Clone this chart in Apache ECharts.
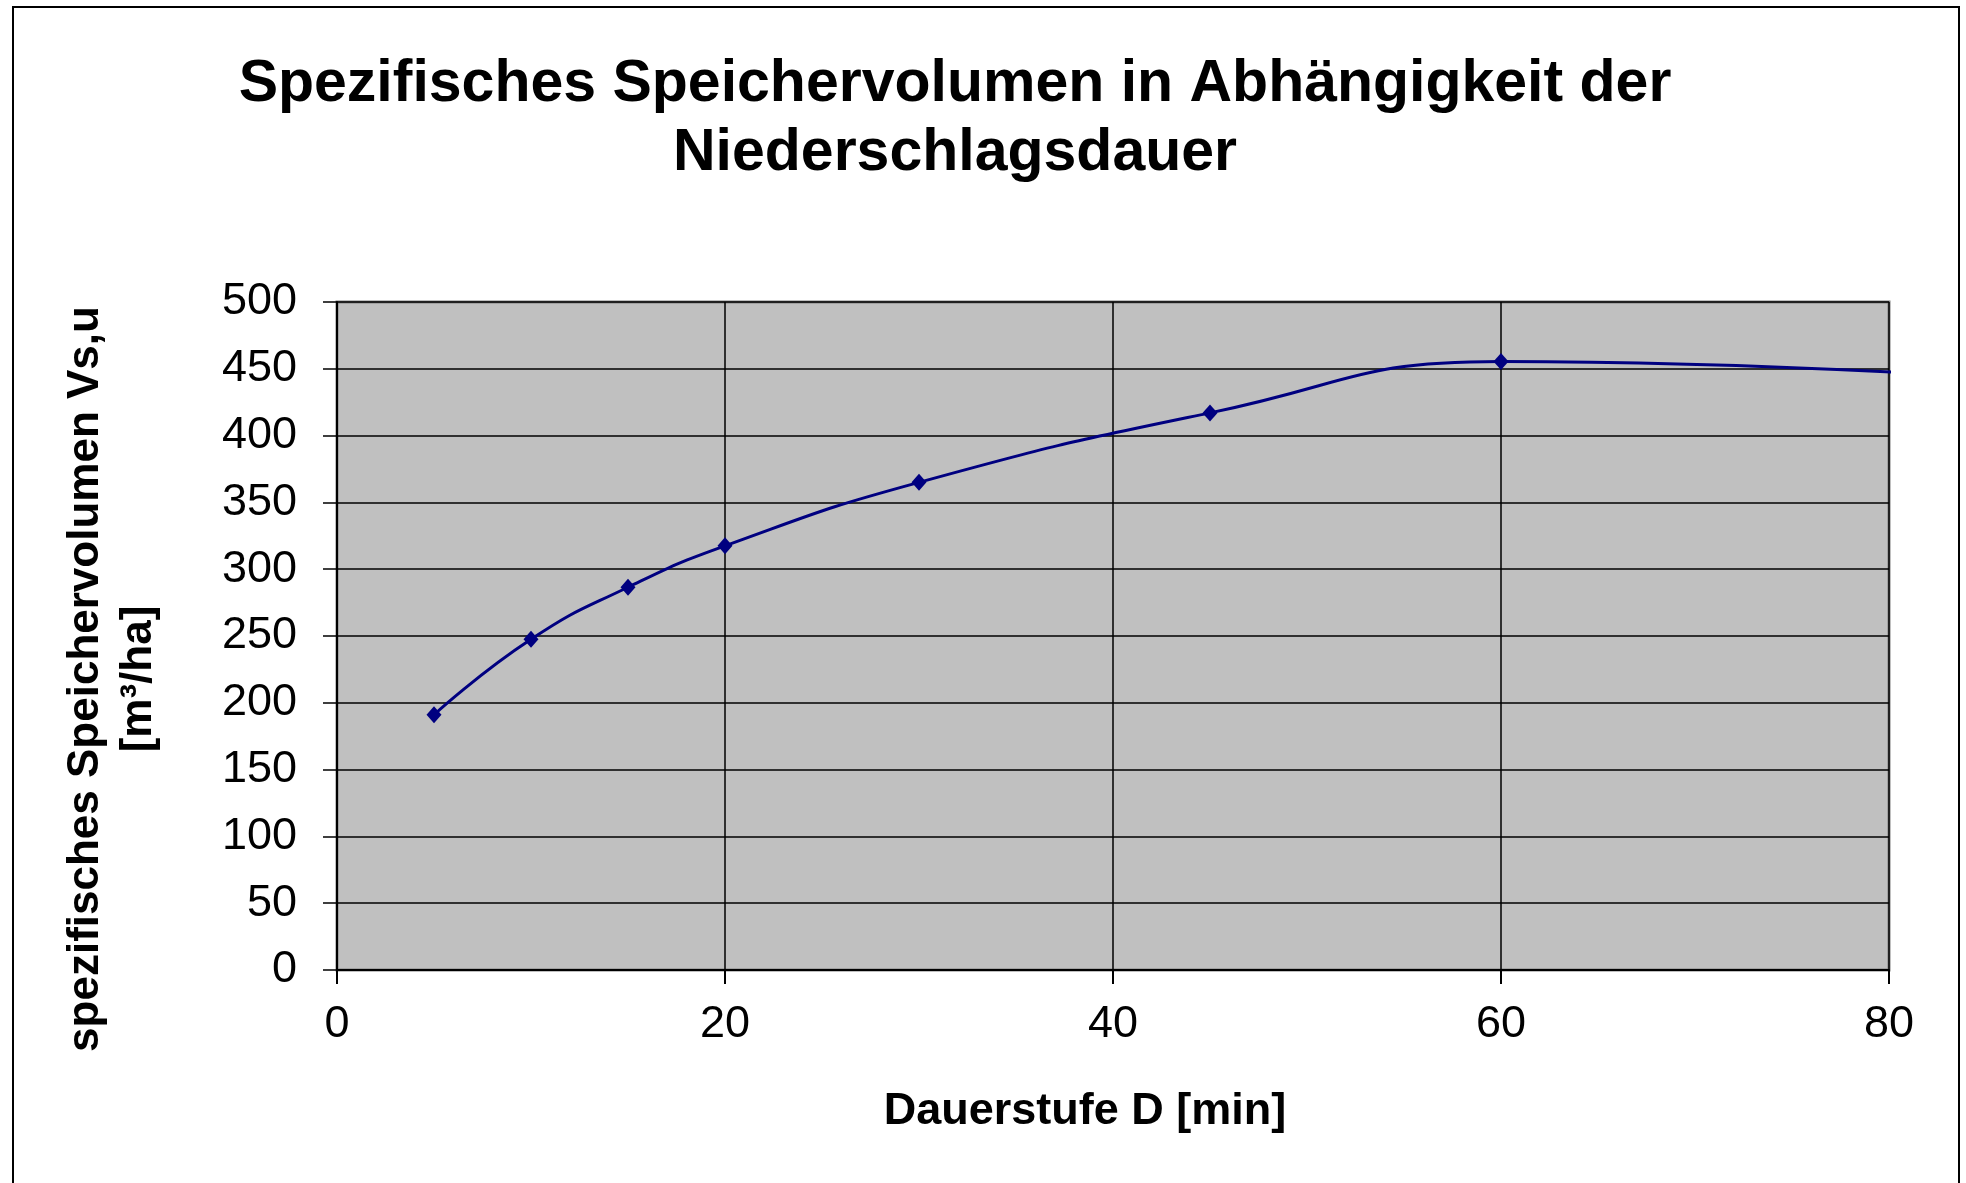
<!DOCTYPE html>
<html>
<head>
<meta charset="utf-8">
<script src="https://cdn.jsdelivr.net/npm/echarts@6/dist/echarts.min.js"></script>
<style>
html,body{margin:0;padding:0;background:#fff;}
#chart{width:1966px;height:1183px;}
</style>
</head>
<body>
<div id="chart"></div>
<script>
// Data
const titleText = 'Spezifisches Speichervolumen in Abhängigkeit der\nNiederschlagsdauer';
const xAxisTitle = 'Dauerstufe D [min]';
const yAxisTitle = 'spezifisches Speichervolumen Vs,u\n[m³/ha]';
const dauer = [5, 10, 15, 20, 30, 45, 60, 90];           // minutes
const volumen = [191, 247.5, 286.5, 317.5, 365, 417, 455.5, 439]; // m³/ha (last point lies beyond the visible x range)

const FONT = '"Liberation Sans", Arial, sans-serif';
const chart = echarts.init(document.getElementById('chart'));
chart.setOption({
  animation: false,
  backgroundColor: '#ffffff',
  graphic: [{
    type: 'rect',
    silent: true,
    shape: { x: 13, y: 7, width: 1946, height: 1190 },
    style: { fill: 'none', stroke: '#000', lineWidth: 2 },
    z: 100
  }],
  title: {
    text: titleText,
    left: 955,
    top: 50,
    textAlign: 'center',
    padding: 0,
    textStyle: {
      fontFamily: FONT, fontWeight: 'bold', fontSize: 59, lineHeight: 69, color: '#000'
    }
  },
  grid: {
    left: 337, top: 302, right: 77, bottom: 213,
    show: true, backgroundColor: '#c0c0c0', borderColor: '#808080', borderWidth: 3
  },
  xAxis: {
    type: 'value', min: 0, max: 80, interval: 20,
    name: xAxisTitle, nameLocation: 'middle', nameGap: 119,
    nameTextStyle: { fontFamily: FONT, fontWeight: 'bold', fontSize: 45, color: '#000', padding: [0, 56, 0, 0] },
    axisLine: { show: true, onZero: false, lineStyle: { color: '#000', width: 2 } },
    axisTick: { show: true, inside: false, length: 14, lineStyle: { color: '#000', width: 2 } },
    axisLabel: { fontFamily: FONT, fontSize: 45, color: '#000', margin: 32 },
    splitLine: { show: true, lineStyle: { color: '#000', width: 1.5 } }
  },
  yAxis: {
    type: 'value', min: 0, max: 500, interval: 50,
    name: yAxisTitle, nameLocation: 'middle', nameGap: 172,
    nameTextStyle: { fontFamily: FONT, fontWeight: 'bold', fontSize: 44, lineHeight: 53, color: '#000', align: 'center', padding: [0, 86, 0, 0] },
    axisLine: { show: true, lineStyle: { color: '#000', width: 2 } },
    axisTick: { show: true, inside: false, length: 14, lineStyle: { color: '#000', width: 1.5 } },
    axisLabel: { fontFamily: FONT, fontSize: 45, color: '#000', margin: 40 },
    splitLine: { show: true, lineStyle: { color: '#000', width: 1.5 } }
  },
  series: [{
    type: 'line',
    data: dauer.map((d, i) => [d, volumen[i]]),
    smooth: true,
    clip: true,
    symbol: 'diamond',
    symbolSize: [15, 17],
    showAllSymbol: true,
    lineStyle: { color: '#000080', width: 3 },
    itemStyle: { color: '#000080' }
  }]
});
</script>
</body>
</html>
